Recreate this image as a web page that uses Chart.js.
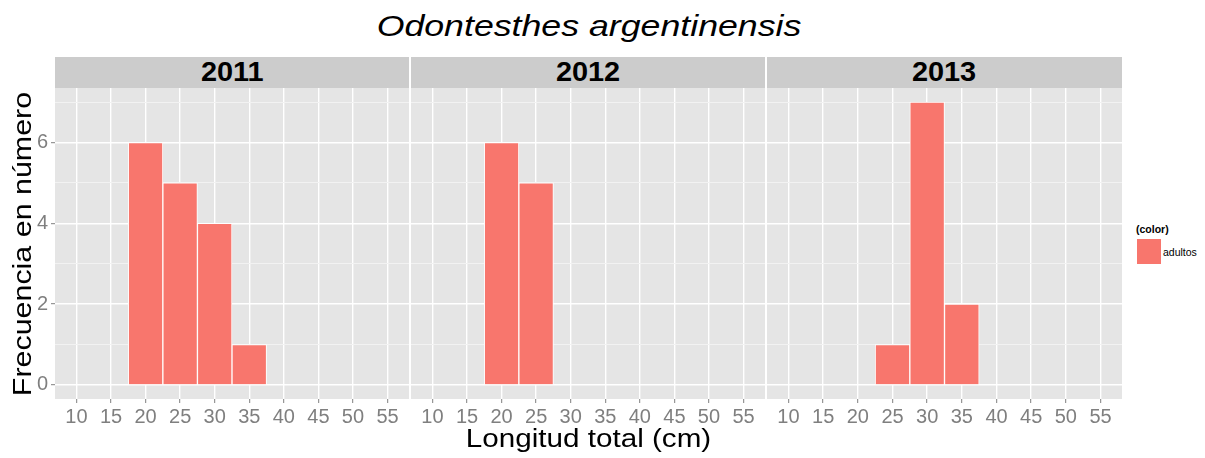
<!DOCTYPE html>
<html>
<head>
<meta charset="utf-8">
<script src="https://cdn.jsdelivr.net/npm/chart.js@4.4.1/dist/chart.umd.min.js"></script>
<style>
  html, body { margin: 0; padding: 0; background: #ffffff; }
  body { width: 1205px; height: 458px; position: relative; overflow: hidden;
         font-family: "Liberation Sans", Arial, sans-serif; }
  .title { position: absolute; left: 0; width: 1178px; top: 11px; text-align: center;
           font-size: 30px; line-height: 30px; font-style: italic;
           color: #000; white-space: nowrap; transform: scaleX(1.19); transform-origin: 50% 50%; }
  .strip { position: absolute; top: 57px; height: 31px; background: #CCCCCC;
           display: flex; align-items: center; justify-content: center;
           font-size: 27px; font-weight: bold; color: #000; }
  .strip span { display: inline-block; transform: scaleX(1.07); }
  .xtitle { position: absolute; left: 55px; width: 1067px; top: 425px; text-align: center;
            font-size: 26px; line-height: 26px; color: #000; white-space: nowrap;
            transform: scaleX(1.14); transform-origin: 50% 50%; }
  .ytitle { position: absolute; left: -178.5px; width: 400px; top: 230.5px; height: 26px;
            text-align: center; font-size: 26px; line-height: 26px;
            color: #000; white-space: nowrap; transform: rotate(-90deg) scaleX(1.17); transform-origin: 50% 50%; }
  canvas { position: absolute; top: 88px; }
  .legend-title { position: absolute; left: 1136px; top: 223px; font-size: 10.5px; font-weight: bold; color: #000; }
  .legend-key { position: absolute; left: 1136px; top: 238px; width: 24px; height: 25px;
                background: #F8766D; border: 1px solid #ffffff; box-sizing: content-box; }
  .legend-label { position: absolute; left: 1163px; top: 246px; font-size: 10.5px; color: #000; }
</style>
</head>
<body>
<div class="title">Odontesthes argentinensis</div>
<div class="strip" style="left:55px;width:354px;"><span id="strip0"></span></div>
<div class="strip" style="left:411px;width:354px;"><span id="strip1"></span></div>
<div class="strip" style="left:767px;width:355px;"><span id="strip2"></span></div>
<canvas id="c0" width="409" height="370" style="left:0px;"></canvas>
<canvas id="c1" width="354" height="370" style="left:411px;"></canvas>
<canvas id="c2" width="355" height="370" style="left:767px;"></canvas>
<div class="ytitle">Frecuencia en número</div>
<div class="xtitle">Longitud total (cm)</div>
<div class="legend-title">(color)</div>
<div class="legend-key"></div>
<div class="legend-label">adultos</div>
<script>
// Length classes (cm, bin centres) and fish counts per sampling year
const years = ['2011', '2012', '2013'];
const bins2011 = [20, 25, 30, 35];
const counts2011 = [6, 5, 4, 1];
const bins2012 = [20, 25];
const counts2012 = [6, 5];
const bins2013 = [25, 30, 35];
const counts2013 = [1, 7, 2];

// Axis breaks
const xTickValues = [10, 15, 20, 25, 30, 35, 40, 45, 50, 55];
const yTickValues = [0, 1, 2, 3, 4, 5, 6, 7];
const yTickLabels = [0, 2, 4, 6];

const xMin = 6.9, xMax = 58.1;
const yMin = -0.35, yMax = 7.35;

const FONT = '"Liberation Sans", Arial, sans-serif';
const BAR = '#F8766D';
const PANEL = '#E5E5E5';
const AXIS_TEXT = '#7F7F7F';

// Grey panel background behind the grid
const panelBackground = {
  id: 'panelBackground',
  beforeDraw(chart) {
    const { ctx, chartArea: a } = chart;
    ctx.save();
    ctx.fillStyle = PANEL;
    ctx.fillRect(a.left, a.top, a.right - a.left, a.bottom - a.top);
    ctx.restore();
  }
};

function facet(canvasId, bins, counts, withYAxis) {
  const points = bins.map((b, i) => ({ x: b, y: counts[i] }));
  return new Chart(document.getElementById(canvasId), {
    type: 'bar',
    data: {
      datasets: [{
        label: 'adultos',
        data: points,
        backgroundColor: BAR,
        borderColor: '#ffffff',
        borderWidth: 1,
        borderSkipped: 'start',
        barPercentage: 1,
        categoryPercentage: 1
      }]
    },
    options: {
      responsive: false,
      animation: false,
      devicePixelRatio: 1,
      layout: { padding: 0 },
      plugins: {
        legend: { display: false },
        tooltip: { enabled: false },
        title: { display: false }
      },
      scales: {
        x: {
          type: 'linear',
          min: xMin,
          max: xMax,
          offset: false,
          afterBuildTicks: s => { s.ticks = xTickValues.map(v => ({ value: v })); },
          afterFit: s => { s.height = 59; s.paddingLeft = 0; s.paddingRight = 0; },
          grid: {
            offset: false,
            color: '#ffffff',
            lineWidth: 1.4,
            drawTicks: true,
            tickLength: 4,
            tickColor: AXIS_TEXT,
            tickWidth: 1
          },
          border: { display: false },
          ticks: {
            color: AXIS_TEXT,
            font: { family: FONT, size: 20 },
            padding: 2,
            maxRotation: 0,
            autoSkip: false,
            callback: v => String(v)
          }
        },
        y: {
          type: 'linear',
          min: yMin,
          max: yMax,
          afterBuildTicks: s => { s.ticks = yTickValues.map(v => ({ value: v })); },
          afterFit: s => { s.width = withYAxis ? 55 : 0; s.paddingTop = 0; s.paddingBottom = 0; },
          grid: {
            color: c => (yTickLabels.includes(c.tick.value) ? '#ffffff' : '#F2F2F2'),
            lineWidth: c => (yTickLabels.includes(c.tick.value) ? 1.4 : 1),
            drawTicks: withYAxis,
            tickLength: 4,
            tickColor: c => (yTickLabels.includes(c.tick.value) ? AXIS_TEXT : 'rgba(0,0,0,0)'),
            tickWidth: 1
          },
          border: { display: false },
          ticks: {
            display: withYAxis,
            color: AXIS_TEXT,
            font: { family: FONT, size: 20 },
            padding: 3,
            autoSkip: false,
            callback: v => (yTickLabels.includes(v) ? String(v) : '')
          }
        }
      }
    },
    plugins: [panelBackground]
  });
}

years.forEach((y, i) => { document.getElementById('strip' + i).textContent = y; });

facet('c0', bins2011, counts2011, true);
facet('c1', bins2012, counts2012, false);
facet('c2', bins2013, counts2013, false);
</script>
</body>
</html>
